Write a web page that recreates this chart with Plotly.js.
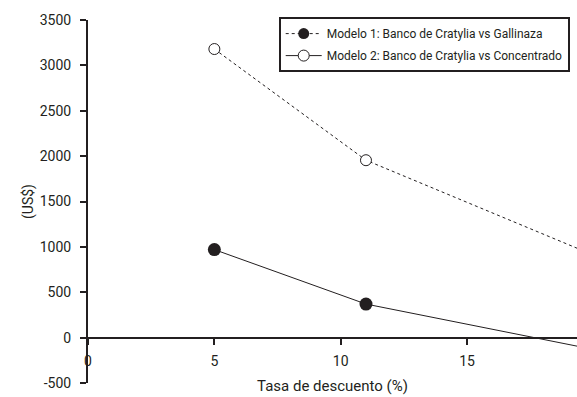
<!DOCTYPE html>
<html>
<head>
<meta charset="utf-8">
<script src="https://cdn.plot.ly/plotly-3.0.1.min.js"></script>
<style>html,body{margin:0;padding:0;background:#fff;}#chart{width:577px;height:397px;}</style>
</head>
<body>
<div id="chart"></div>
<script>
// Data
const tasa = [5, 11, 20];
const modelo1 = [970, 370, -130];
const modelo2 = [3180, 1955, 910];
const nombre1 = "Modelo 1: Banco de Cratylia vs Gallinaza";
const nombre2 = "Modelo 2: Banco de Cratylia vs Concentrado";
const xTicks = [0, 5, 10, 15];
const yTicks = [-500, 0, 500, 1000, 1500, 2000, 2500, 3000, 3500];

const ink = '#231f20';
const font = 'Roboto, "Liberation Sans", sans-serif';

const traces = [
  // drawn series
  {x: tasa, y: modelo2, mode: 'lines+markers', showlegend: false, cliponaxis: true,
   line: {color: ink, width: 1, dash: 'dot'},
   marker: {symbol: 'circle', size: 11, color: '#fff', line: {color: ink, width: 1}}},
  {x: tasa, y: modelo1, mode: 'lines+markers', showlegend: false, cliponaxis: true,
   line: {color: ink, width: 1},
   marker: {symbol: 'circle', size: 13, color: ink, line: {color: ink, width: 0}}},
  // legend entries (as in the reference legend)
  {x: [null], y: [null], mode: 'lines+markers', name: nombre1, legendgroup: 'a',
   line: {color: ink, width: 1, dash: 'dot'},
   marker: {symbol: 'circle', size: 11, color: ink}},
  {x: [null], y: [null], mode: 'lines+markers', name: nombre2, legendgroup: 'b',
   line: {color: ink, width: 1},
   marker: {symbol: 'circle', size: 11, color: '#fff', line: {color: ink, width: 1}}}
];

const layout = {
  width: 577, height: 397,
  margin: {l: 88, r: 0, t: 20, b: 14},
  paper_bgcolor: '#fff', plot_bgcolor: '#fff',
  font: {family: font, size: 14, color: ink},
  showlegend: true,
  legend: {x: 0.39, y: 1.008, xanchor: 'left', yanchor: 'top',
    bordercolor: ink, borderwidth: 2, bgcolor: '#fff',
    font: {family: font, size: 12, color: ink},
    itemwidth: 36,
    traceorder: 'grouped', tracegroupgap: 3},
  xaxis: {range: [0, 19.35], tickvals: xTicks, ticktext: xTicks.map(String),
    anchor: 'free', position: 0.125,
    showline: true, linecolor: ink, linewidth: 2,
    ticks: 'outside', ticklen: 6, tickwidth: 2, tickcolor: ink,
    showgrid: false, zeroline: false, ticklabelstandoff: 5,
    tickfont: {family: font, size: 14, color: ink},
    title: {text: 'Tasa de descuento (%)', font: {family: font, size: 15, color: ink}, standoff: 11}},
  yaxis: {range: [-500, 3500], tickvals: yTicks, ticktext: yTicks.map(String),
    showline: true, linecolor: ink, linewidth: 2,
    ticks: 'outside', ticklen: 6, tickwidth: 2, tickcolor: ink,
    showgrid: false, zeroline: false, ticklabelstandoff: 6,
    tickfont: {family: font, size: 14, color: ink},
    title: {text: '(US$)', font: {family: font, size: 14, color: ink}, standoff: 3}}
};

Plotly.newPlot('chart', traces, layout, {displayModeBar: false, staticPlot: true});
</script>
</body>
</html>
